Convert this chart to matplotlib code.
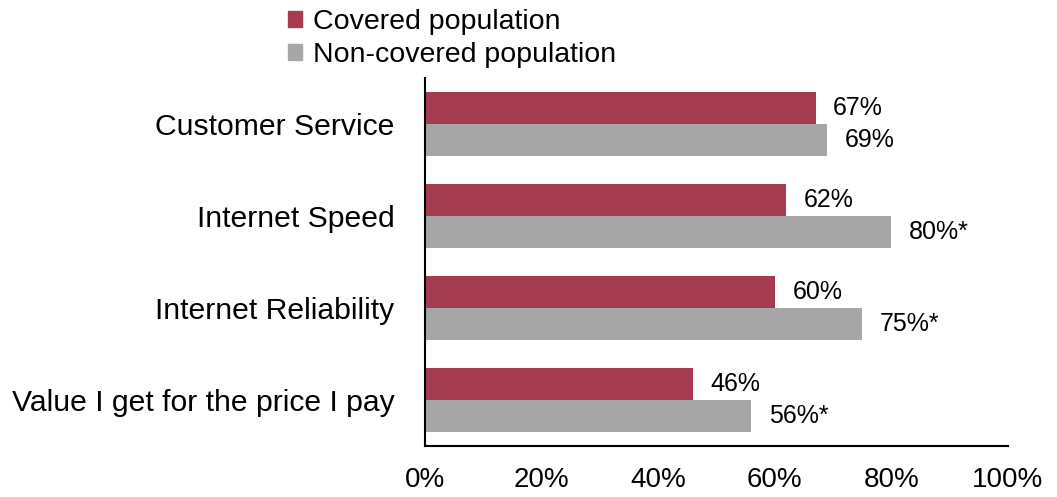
import matplotlib
matplotlib.use("Agg")
import matplotlib.pyplot as plt
from matplotlib.patches import Patch
import numpy as np

plt.rcParams['font.family'] = ['Liberation Sans', 'DejaVu Sans']

categories = ["Customer Service", "Internet Speed", "Internet Reliability",
              "Value I get for the price I pay"]
covered = [67, 62, 60, 46]
non_covered = [69, 80, 75, 56]
non_covered_flags = ["", "*", "*", "*"]
series_names = ["Covered population", "Non-covered population"]
x_ticks = [0, 20, 40, 60, 80, 100]

red = "#A63C50"
gray = "#A6A6A6"

fig = plt.figure(figsize=(10.57, 4.97), dpi=100)
ax = fig.add_axes([425/1057, 51/497, 583/1057, 368/497])

y = np.arange(len(categories))
h = 0.348
ax.barh(y - h/2, covered, height=h, color=red)
ax.barh(y + h/2, non_covered, height=h, color=gray)

for yi, v in zip(y, covered):
    ax.text(v + 3.0, yi - h/2, f"{v}%", va="center", ha="left", fontsize=18)
for yi, v, f in zip(y, non_covered, non_covered_flags):
    ax.text(v + 3.0, yi + h/2, f"{v}%{f}", va="center", ha="left", fontsize=18)

ax.set_xlim(0, 100)
ax.set_ylim(len(categories) - 0.5, -0.5)
ax.set_xticks(x_ticks)
ax.set_xticklabels([f"{t}%" for t in x_ticks], fontsize=20)
ax.set_yticks(y)
ax.set_yticklabels(categories, fontsize=21.7)
ax.tick_params(axis="x", length=0, pad=15)
ax.tick_params(axis="y", length=0, pad=22)
for s in ["top", "right"]:
    ax.spines[s].set_visible(False)
for s in ["left", "bottom"]:
    ax.spines[s].set_linewidth(1.5)
    ax.spines[s].set_color("black")

handles = [Patch(color=red), Patch(color=gray)]
fig.legend(handles, series_names, loc="upper left",
           bbox_to_anchor=(262/1057, 1.034), frameon=False, fontsize=20.5,
           handlelength=0.5, handleheight=0.5, handletextpad=0.4,
           labelspacing=0.25)

fig.savefig("out.png", dpi=100)
